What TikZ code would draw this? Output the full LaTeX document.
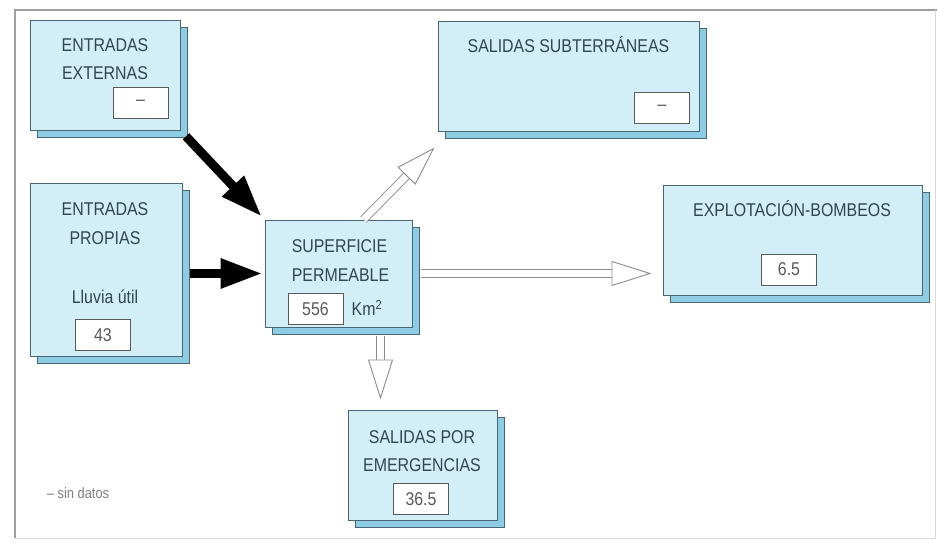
\documentclass[tikz,border=0pt]{standalone}
\usepackage{fontspec}
\setmainfont{Liberation Sans}[FakeStretch=0.86]
\usepackage{xcolor}
\usetikzlibrary{arrows.meta}
\usetikzlibrary{shadows}

\definecolor{boxfill}{HTML}{D2EEF7}
\definecolor{boxback}{HTML}{8CCDE4}
\definecolor{boxline}{HTML}{4A6674}
\definecolor{inkblue}{HTML}{2F4653}
\definecolor{numgray}{HTML}{5A5A5A}

\begin{document}
\begin{tikzpicture}
		[x=1pt,y=-1pt,
		every node/.style={draw=boxline,line width=1pt,inner sep=0pt,font=\fontsize{18.5}{20}\selectfont},
		box/.style={fill=boxfill,general shadow={fill=boxback,draw=boxline,line width=1pt,shadow xshift=7pt,shadow yshift=-7pt}},
		val/.style={fill=white,draw=numgray,text=numgray,minimum width=55pt,minimum height=31pt},
		txt/.style={draw=none,text=inkblue,text height=13.2pt,text depth=0pt},
		solid arrow/.style={line width=9pt,-{Triangle[length=42pt,width=28pt]}},
		open arrow/.style={draw=gray!90,line width=.9pt,double=white,double distance=7pt,
			-{Triangle[open,fill=white,line width=.9pt,length=40pt,width=25pt]}}]
		\useasboundingbox (0,0) rectangle (937,541);
		\draw [gray!75,line width=1.5pt] (15,538) -- (15,10) -- (937,10);
		\draw [gray!30,line width=1pt] (15,538) -- (935,538) -- (935,10);
		% boxes
		\node [box,minimum width=150pt,minimum height=110pt] (ext) at (105,75) {};
		\node [box,minimum width=152pt,minimum height=173pt] (prop) at (106,269.5) {};
		\node [box,minimum width=147pt,minimum height=107pt] (sup) at (338.5,273.5) {};
		\node [box,minimum width=261pt,minimum height=110pt] (sub) at (568.5,76) {};
		\node [box,minimum width=259pt,minimum height=110pt] (expl) at (792.5,240) {};
		\node [box,minimum width=149pt,minimum height=110pt] (emer) at (422.5,465) {};
		% texts
		\node [txt] (ext1) at (105,45) {ENTRADAS};
		\node [txt] (ext2) at (105,73) {EXTERNAS};
		\node [val] (ext3) at (140.5,103) {--};
		\node [txt] (prop1) at (105,209) {ENTRADAS};
		\node [txt] (prop2) at (105,238) {PROPIAS};
		\node [txt] (prop3) at (105,297) {Lluvia útil};
		\node [val] (prop4) at (103,335) {43};
		\node [txt] (sup1) at (339.5,246) {SUPERFICIE};
		\node [txt] (sup2) at (340.5,275) {PERMEABLE};
		\node [val] (sup3) at (315.5,309) {556};
		\node [txt] (sup4) at (367,309) {Km\textsuperscript{2}};
		\node [txt] (sub1) at (568.5,46) {SALIDAS SUBTERRÁNEAS};
		\node [val] (sub2) at (662,108) {--};
		\node [txt] (expl1) at (792,210) {EXPLOTACIÓN-BOMBEOS};
		\node [val] (expl2) at (789,269.5) {6.5};
		\node [txt] (emer1) at (422,437) {SALIDAS POR};
		\node [txt] (emer2) at (422,465) {EMERGENCIAS};
		\node [val] (emer3) at (421,499) {36.5};
		\node [txt,text=gray,font=\fontsize{15}{17}\selectfont] (note) at (78,492) {-- sin datos};
		% arrows
		\coordinate (dn) at ([xshift=42pt]sup.south);
		\draw [solid arrow,shorten <=8pt,shorten >=4pt] (ext.south east) -- (sup.north west);
		\draw [solid arrow,shorten <=7pt,shorten >=2pt] (prop.east |- sup.west) -- (sup.west);
		\draw [open arrow,shorten <=8pt,shorten >=11pt] (sup.east) -- (expl.west |- sup.east);
		\draw [open arrow] ([xshift=25pt]sup.north) -- ([shift={(-3,16)}]sub.south west);
		\draw [open arrow,shorten <=8pt,shorten >=10pt] (dn) -- (dn |- emer.north);
	\end{tikzpicture}
\end{document}
